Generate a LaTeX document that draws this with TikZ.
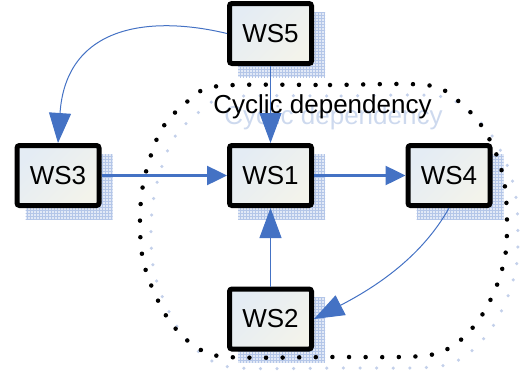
\documentclass[tikz,border=0pt]{standalone}
\usepackage{fontspec}
\setmainfont{Liberation Sans}
\usetikzlibrary{arrows.meta,patterns}
\definecolor{arrowc}{RGB}{68,114,196}
\definecolor{shadowc}{RGB}{180,198,232}
\definecolor{shadowbg}{RGB}{226,233,246}
\definecolor{txtshadow}{RGB}{205,217,238}
\definecolor{dotshadow}{RGB}{195,208,234}
\definecolor{boxa}{RGB}{228,236,244}
\definecolor{boxb}{RGB}{243,243,235}
\pgfdeclarelayer{bg}
\pgfdeclarelayer{mid}
\pgfsetlayers{bg,mid,main}
\begin{document}
\begin{tikzpicture}[x=1pt,y=-1pt,
  wsbox/.style={draw=black, line width=5pt, rounded corners=2.5pt,
    minimum width=82pt, minimum height=60pt, outer sep=2.5pt, inner sep=0pt,
    top color=boxa, bottom color=boxb, shading angle=45,
    font=\fontsize{26}{30}\selectfont},
  boxshadow/.style={fill=shadowbg, postaction={pattern=grid, pattern color=shadowc}},
  thinarrow/.style={draw=arrowc, line width=1pt, -{Triangle[length=30pt,width=22pt]}},
  thickarrow/.style={draw=arrowc, line width=2.5pt, -{Triangle[length=20pt,width=19pt]}},
  cycline/.style={line width=4.5pt, line cap=round, dash pattern=on 0pt off 16.6pt},
  bigtext/.style={font=\fontsize{26}{30}\selectfont, anchor=base, inner sep=0pt}
]
\useasboundingbox (0,0) rectangle (524,375);

\node[wsbox] (ws5) at (270.5,33.5) {WS5};
\node[wsbox] (ws3) at (58,175.5) {WS3};
\node[wsbox] (ws1) at (270.5,175.5) {WS1};
\node[wsbox] (ws4) at (449,175.5) {WS4};
\node[wsbox] (ws2) at (270.5,319) {WS2};

\node[bigtext] (cyc) at (322.5,113) {Cyclic dependency};

\begin{pgfonlayer}{bg}
  \foreach \n in {ws5,ws3,ws1,ws4,ws2}{
    \path[boxshadow] ([xshift=11pt,yshift=-11pt]\n.north west) rectangle ([xshift=11pt,yshift=-11pt]\n.south east);
  }
  \node[bigtext, text=txtshadow] (cycshadow) at (333.5,124) {Cyclic dependency};
  \begin{scope}[shift={(11,11)}]
    \draw[cycline, line width=3.5pt, dotshadow] plot[smooth cycle, tension=0.55] coordinates {
      (219,86) (330,85) (426,85) (457,100) (481,125) (497,156) (505,187) (507,224)
      (505,257) (495,290) (478,321) (454,345) (422,356) (330,357) (228,357) (196,347)
      (171,323) (154,292) (143,260) (140,226) (142,191) (150,158) (163,127) (188,101)};
  \end{scope}
\end{pgfonlayer}

\begin{pgfonlayer}{mid}
  \draw[cycline, black] plot[smooth cycle, tension=0.55] coordinates {
    (219,86) (330,85) (426,85) (457,100) (481,125) (497,156) (505,187) (507,224)
    (505,257) (495,290) (478,321) (454,345) (422,356) (330,357) (228,357) (196,347)
    (171,323) (154,292) (143,260) (140,226) (142,191) (150,158) (163,127) (188,101)};
\end{pgfonlayer}

\draw[thinarrow] (ws5.west) .. controls (150,15) and (66,25) .. (ws3.north);
\draw[thinarrow] (ws5.south) -- (ws1.north);
\draw[thickarrow] (ws3.east) -- (ws1.west);
\draw[thickarrow] (ws1.east) -- (ws4.west);
\draw[thinarrow] (ws4.south) .. controls (420,260) and (370,290) .. (ws2.east);
\draw[thinarrow] (ws2.north) -- (ws1.south);
\end{tikzpicture}
\end{document}
